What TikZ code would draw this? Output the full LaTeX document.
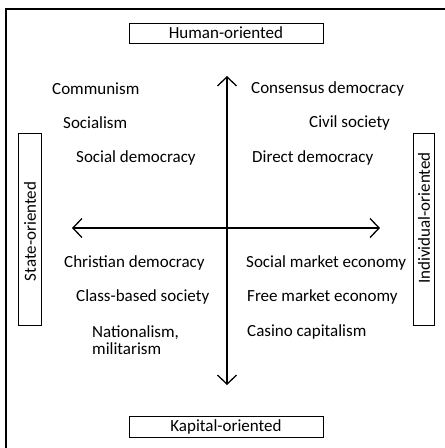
\documentclass[tikz,border=0pt]{standalone}
\usepackage{fontspec}
\setmainfont{Carlito}
\usetikzlibrary{arrows.meta}

\tikzset{
    label box/.style = {draw, line width=0.8pt, inner sep=0pt},
    item/.style = {anchor=west, inner sep=0pt},
    axis/.style = {line width=1.3pt, {Straight Barb[length=9pt,width=19pt]}-{Straight Barb[length=9pt,width=19pt]}}
}

\begin{document}
\begin{tikzpicture}[x=1pt, y=-1pt, font=\fontsize{17}{19}\selectfont]
\useasboundingbox (0,0) rectangle (445,448);
% outer frame, runs off the page on the right and at the bottom
\draw[line width=2pt] (6,9) rectangle (470,470);

% the four orientations
\node[label box, minimum width=194pt, minimum height=20pt] (human) at (226,33) {Human-oriented};
\node[label box, minimum width=194pt, minimum height=21pt] (kapital) at (226,426.5) {Kapital-oriented};
\node[label box, minimum width=23pt, minimum height=192pt] (state) at (29.5,229) {};
\node[rotate=90, inner sep=0pt] (state text) at (30,231.5) {State-oriented};
\node[label box, minimum width=21pt, minimum height=192pt] (individual) at (423.5,229) {};
\node[rotate=90, inner sep=0pt] (individual text) at (424,218) {Individual-oriented};

% axes
\coordinate (top) at (227,76);
\coordinate (bottom) at (227,385);
\coordinate (left) at (72,228);
\coordinate (right) at (380,228);
\draw[axis] (bottom) -- (top);
\draw[axis] (left) -- (right);

% upper left
\node[item] (communism) at (52,89) {Communism};
\node[item] (socialism) at (63,123) {Socialism};
\node[item] (socdem) at (76,158) {Social democracy};
% upper right
\node[item] (consensus) at (251,89) {Consensus democracy};
\node[item] (civil) at (309,123) {Civil society};
\node[item] (direct) at (252,158) {Direct democracy};
% lower left
\node[item] (christdem) at (64,263) {Christian democracy};
\node[item] (classbased) at (76,297) {Class-based society};
\node[item, align=left, font=\fontsize{17}{16.5}\selectfont] (nationalism) at (92,340) {Nationalism,\\militarism};
% lower right
\node[item] (socmarket) at (246,263) {Social market economy};
\node[item] (freemarket) at (247,297) {Free market economy};
\node[item] (casino) at (247,332) {Casino capitalism};
\end{tikzpicture}
\end{document}
